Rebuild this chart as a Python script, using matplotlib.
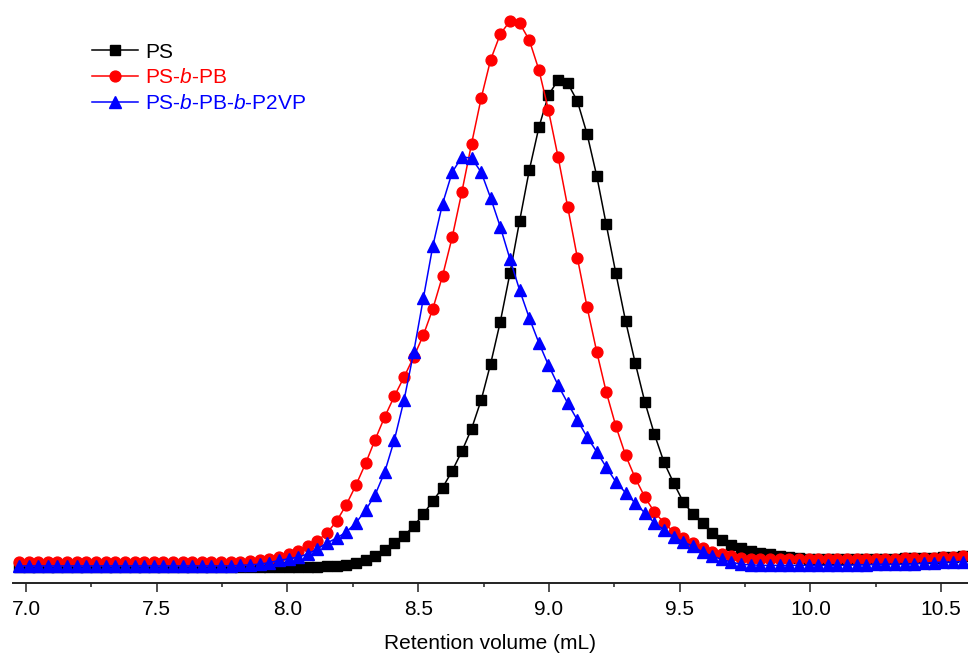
import matplotlib
matplotlib.use("Agg")
import matplotlib.pyplot as plt
from matplotlib.ticker import MultipleLocator, FormatStrFormatter

plt.rcParams["font.family"] = ["Liberation Sans", "DejaVu Sans"]
plt.rcParams["mathtext.fontset"] = "custom"
plt.rcParams["mathtext.rm"] = "Liberation Sans"
plt.rcParams["mathtext.it"] = "Liberation Sans:italic"

# retention volume (mL), shared sampling of the three traces
volume = [
    6.973, 7.010, 7.046, 7.083, 7.120, 7.157, 7.194, 7.231, 7.267, 7.304,
    7.341, 7.378, 7.415, 7.451, 7.488, 7.525, 7.562, 7.599, 7.636, 7.672,
    7.709, 7.746, 7.783, 7.820, 7.857, 7.893, 7.930, 7.967, 8.004, 8.041,
    8.078, 8.114, 8.151, 8.188, 8.225, 8.262, 8.299, 8.335, 8.372, 8.409,
    8.446, 8.483, 8.520, 8.556, 8.593, 8.630, 8.667, 8.704, 8.741, 8.777,
    8.814, 8.851, 8.888, 8.925, 8.962, 8.998, 9.035, 9.072, 9.109, 9.146,
    9.183, 9.219, 9.256, 9.293, 9.330, 9.367, 9.403, 9.440, 9.477, 9.514,
    9.551, 9.588, 9.624, 9.661, 9.698, 9.735, 9.772, 9.809, 9.845, 9.882,
    9.919, 9.956, 9.993, 10.030, 10.066, 10.103, 10.140, 10.177, 10.214, 10.251,
    10.287, 10.324, 10.361, 10.398, 10.435, 10.472, 10.508, 10.545, 10.582,
]

# detector signal (a.u.)
ps = [
    0.0, 0.0, 0.0, 0.0, 0.0, 0.0, 0.0, 0.0, 0.0, 0.0,
    0.0, 0.0, 0.0, 0.0, 0.0, 0.0, 0.0, 0.0, 0.0, 0.0,
    0.0, 0.0, 0.0, 0.0, 0.0, 0.0, 0.0, 0.0, 0.0, 0.0,
    0.0, 0.0, 0.1, 0.2, 0.4, 0.7, 1.3, 2.0, 3.1, 4.4,
    5.7, 7.5, 9.7, 12.1, 14.5, 17.6, 21.2, 25.3, 30.6, 37.2,
    44.9, 53.8, 63.4, 72.7, 80.6, 86.4, 89.2, 88.6, 85.3, 79.3,
    71.6, 62.8, 53.8, 45.1, 37.4, 30.2, 24.4, 19.2, 15.4, 11.9,
    9.7, 8.1, 6.2, 4.9, 4.0, 3.5, 2.9, 2.6, 2.3, 2.0,
    1.8, 1.6, 1.5, 1.4, 1.4, 1.4, 1.4, 1.4, 1.4, 1.4,
    1.5, 1.5, 1.6, 1.6, 1.6, 1.7, 1.8, 1.9, 2.0,
]

ps_pb = [
    0.9, 0.9, 0.9, 0.9, 0.9, 0.9, 0.9, 0.9, 0.9, 0.9,
    0.9, 0.9, 0.9, 0.9, 0.9, 0.9, 0.9, 0.9, 0.9, 0.9,
    0.9, 0.9, 0.9, 1.0, 1.1, 1.3, 1.5, 1.8, 2.3, 2.9,
    3.8, 4.8, 6.2, 8.4, 11.4, 15.0, 19.0, 23.3, 27.5, 31.3,
    34.8, 38.5, 42.5, 47.3, 53.3, 60.4, 68.7, 77.5, 85.9, 92.9,
    97.6, 100.0, 99.6, 96.5, 91.0, 83.7, 75.1, 65.9, 56.6, 47.6,
    39.4, 32.1, 25.8, 20.5, 16.3, 12.8, 10.1, 8.1, 6.4, 5.3,
    4.4, 3.5, 2.8, 2.4, 2.0, 1.7, 1.5, 1.5, 1.4, 1.4,
    1.4, 1.4, 1.4, 1.4, 1.4, 1.4, 1.4, 1.4, 1.4, 1.4,
    1.5, 1.5, 1.6, 1.6, 1.6, 1.7, 1.8, 1.9, 2.0,
]

ps_pb_p2vp = [
    0.2, 0.2, 0.2, 0.2, 0.2, 0.2, 0.2, 0.2, 0.2, 0.2,
    0.2, 0.2, 0.2, 0.2, 0.2, 0.2, 0.2, 0.2, 0.2, 0.2,
    0.2, 0.2, 0.2, 0.3, 0.4, 0.5, 0.8, 1.2, 1.5, 1.8,
    2.4, 3.3, 4.4, 5.3, 6.4, 8.1, 10.4, 13.2, 17.4, 23.3,
    30.6, 39.4, 49.3, 58.8, 66.5, 72.3, 75.1, 74.9, 72.3, 67.6,
    62.3, 56.4, 50.7, 45.6, 41.0, 37.0, 33.3, 30.0, 26.9, 23.8,
    21.1, 18.3, 15.6, 13.6, 11.7, 9.9, 8.1, 6.8, 5.5, 4.6,
    3.8, 2.7, 2.0, 1.4, 0.9, 0.5, 0.4, 0.3, 0.3, 0.3,
    0.3, 0.3, 0.3, 0.3, 0.3, 0.3, 0.3, 0.4, 0.4, 0.5,
    0.5, 0.5, 0.5, 0.6, 0.7, 0.8, 0.9, 0.9, 1.0,
]

fig = plt.figure(figsize=(9.68, 6.58), dpi=100)
ax = fig.add_axes([0.0134, 0.114, 0.9866, 0.886])

ax.plot(volume, ps, color="black", lw=1.1, marker="s", ms=6.8, label="PS")
ax.plot(volume, ps_pb, color="#ff0000", lw=1.1, marker="o", ms=7.8, label="PS-$b$-PB")
ax.plot(volume, ps_pb_p2vp, color="#0000ff", lw=1.1, marker="^", ms=8.6,
        label="PS-$b$-PB-$b$-P2VP")

ax.set_xlim(6.950, 10.603)
ax.set_ylim(-2.93, 103.85)

for side in ["left", "right", "top"]:
    ax.spines[side].set_visible(False)
ax.spines["bottom"].set_linewidth(1.4)
ax.spines["bottom"].set_color("#222222")
ax.set_yticks([])

ax.xaxis.set_major_locator(MultipleLocator(0.5))
ax.xaxis.set_minor_locator(MultipleLocator(0.25))
ax.xaxis.set_major_formatter(FormatStrFormatter("%.1f"))
ax.tick_params(axis="x", which="major", direction="out", length=6.5, width=1.1,
               labelsize=15, pad=6, color="#222222")
ax.tick_params(axis="x", which="minor", direction="out", length=3.2, width=1.1, color="#222222")

ax.set_xlabel("Retention volume (mL)", fontsize=15)
ax.xaxis.set_label_coords(0.5, -0.087)

leg = ax.legend(loc="upper left", bbox_to_anchor=(0.095, 0.935),
                bbox_transform=fig.transFigure, frameon=False, fontsize=15,
                handlelength=2.2, handletextpad=0.35, labelspacing=0.32,
                borderpad=0, borderaxespad=0, labelcolor="linecolor")

fig.savefig("out.png", dpi=100)
